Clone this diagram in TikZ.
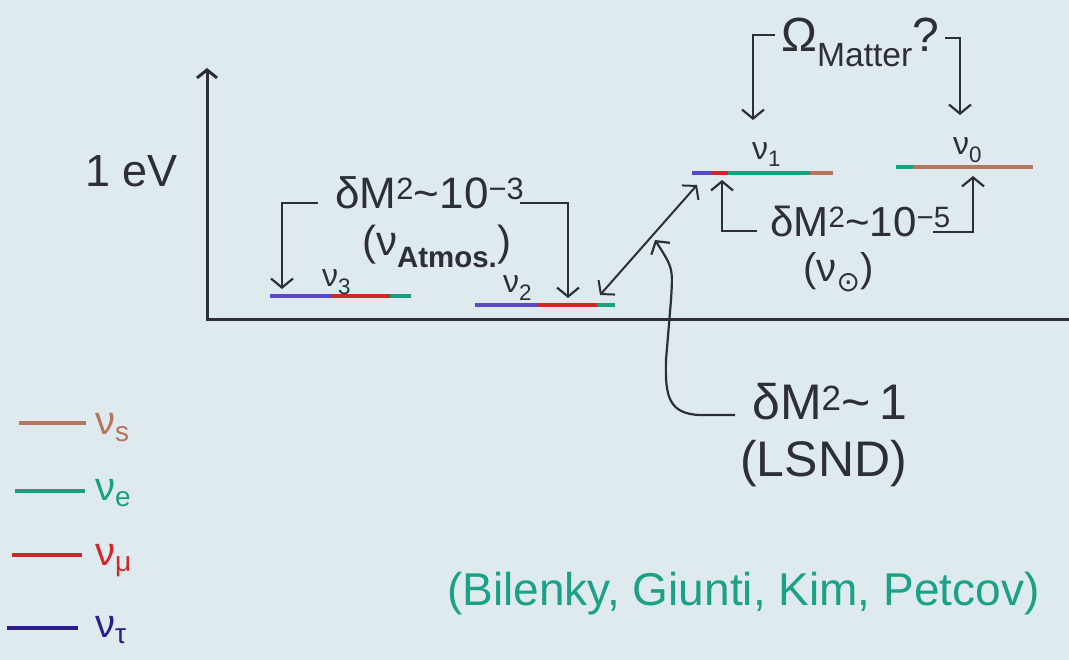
\documentclass[tikz,border=0pt]{standalone}
\usepackage{fontspec}
\setmainfont{Liberation Sans}
\newfontfamily\dvsym{DejaVu Sans}
\usetikzlibrary{arrows.meta}
\definecolor{papier}{HTML}{DFEAEF}
\definecolor{tinte}{HTML}{2E2E36}
\definecolor{nus}{HTML}{B4765E}
\definecolor{nue}{HTML}{19A07E}
\definecolor{num}{HTML}{D02828}
\definecolor{nut}{HTML}{5A48C8}
\definecolor{nutl}{HTML}{2C1C8E}
\definecolor{zitat}{HTML}{1AA286}
\tikzset{
  pfeil/.style={-{Straight Barb[length=9pt,width=22pt]},tinte,line width=2.2pt},
  doppel/.style={{Straight Barb[length=9pt,width=22pt]}-{Straight Barb[length=9pt,width=22pt]},tinte,line width=2pt},
  achse/.style={tinte,line width=3pt},
  niveau/.style={line width=4pt},
  gross/.style={tinte,inner sep=0pt,anchor=base west},
  klein/.style={tinte,inner sep=0pt,anchor=base west,font=\fontsize{32}{36}\selectfont},
  legende/.style={inner sep=0pt,anchor=base west,font=\fontsize{40}{46}\selectfont},
}
\newcommand{\nuv}[1]{ν\textsubscript{#1}}
\newcommand{\gr}[1]{\fontsize{#1}{#1}\selectfont}

\begin{document}
\begin{tikzpicture}[x=1pt,y=-1pt]
  \useasboundingbox (0,0) rectangle (1069,660);
  \fill[papier] (0,0) rectangle (1069,660);
  % axes
  \coordinate (ende) at (1069,320);
  \coordinate (ecke) at (207,320);
  \coordinate (oben) at (207,68);
  \draw[achse,-{Straight Barb[length=8pt,width=20pt]}] (ende) -- (ecke) -- (oben);
  \node[gross,font=\gr{45}] (ev) at (85,187) {1 eV};
  % levels
  \foreach \y/\a/\b/\c in {296/270/332/nut, 296/332/390/num, 296/390/411/nue,
                           305/475/538/nut, 305/538/597/num, 305/597/615/nue,
                           173/692/712/nut, 173/712/728/num, 173/728/810/nue, 173/810/833/nus,
                           167/896/913/nue, 167/913/1033/nus}
    \draw[niveau,\c] (\a,\y) -- (\b,\y);
  \node[klein] (l3) at (322,287) {\nuv{3}};
  \node[klein] (l2) at (503,293) {\nuv{2}};
  \node[klein] (l1) at (752,160) {\nuv{1}};
  \node[klein] (l0) at (953,155) {\nuv{0}};
  % atmospheric
  \node[gross,font=\gr{44}] (atm) at (335,209) {δM\textsuperscript{2}\textasciitilde10\textsuperscript{−3}};
  \node[gross,font=\gr{42}] (atmb) at (362,256) {(ν\textsubscript{\textbf{Atmos.}})};
  \coordinate (atmL) at (318,203);
  \coordinate (t3) at (282,289);
  \coordinate (atmR) at (520,203);
  \coordinate (t2) at (568,298);
  \draw[pfeil] (atmL) -| (t3);
  \draw[pfeil] (atmR) -| (t2);
  % LSND
  \coordinate (d2) at (600,295);
  \coordinate (d1) at (697,185);
  \draw[doppel] (d2) -- (d1);
  \node[gross,font=\gr{50}] (lsnd) at (752,420) {δM\textsuperscript{2}\textasciitilde\,1};
  \node[gross,font=\gr{50}] (lsndb) at (740,476) {(LSND)};
  \coordinate (lsndA) at (735,415);
  \coordinate (lsndT) at (655,240);
  \draw[pfeil] (lsndA) -- (700,415) .. controls (668,414) and (665,395) .. (666,360)
    -- (671,300) .. controls (673,268) .. (lsndT);
  % solar
  \node[gross,font=\gr{42}] (sol) at (770,237) {δM\textsuperscript{2}\textasciitilde10\textsuperscript{−5}};
  \node[gross,font=\gr{40}] (solb) at (803,282) {(ν\textsubscript{\dvsym ⊙})};
  \coordinate (solL) at (757,231);
  \coordinate (s1) at (722,180);
  \coordinate (solR) at (933,232);
  \coordinate (s0) at (973,176);
  \draw[pfeil] (solL) -| (s1);
  \draw[pfeil] (solR) -| (s0);
  % matter
  \node[gross,font=\gr{48}] (mat) at (781,52) {Ω\textsubscript{Matter}?};
  \coordinate (matL) at (775,35);
  \coordinate (m1) at (753,120);
  \coordinate (matR) at (945,38);
  \coordinate (m0) at (960,115);
  \draw[pfeil] (matL) -| (m1);
  \draw[pfeil] (matR) -| (m0);
  % legend
  \foreach \y/\a/\b/\c/\s/\t in {423/19/86/nus/s/435, 491/15/85/nue/e/500,
                                 555/12/82/num/μ/565, 628/7/78/nutl/τ/637}{
    \draw[niveau,\c] (\a,\y) -- (\b,\y);
    \node[legende,\c] (leg\s) at (95,\t) {\nuv{\s}};
  }
  \node[gross,zitat,font=\gr{46}] (zit) at (447,605) {(Bilenky, Giunti, Kim, Petcov)};
\end{tikzpicture}
\end{document}
